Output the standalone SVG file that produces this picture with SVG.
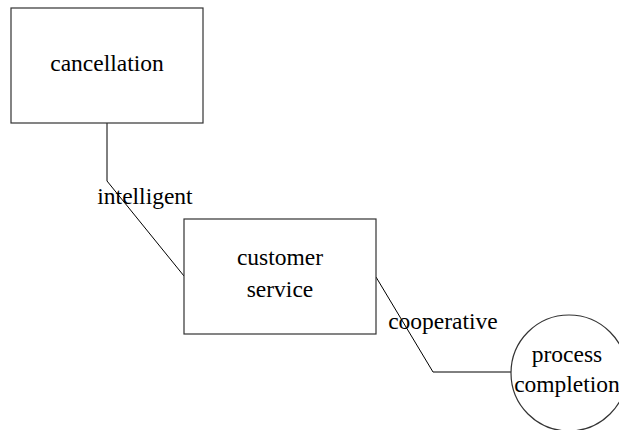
<svg xmlns="http://www.w3.org/2000/svg" width="619" height="430" viewBox="0 0 619 430">
<style>
.n{fill:#fff;stroke:#333;stroke-width:1.2}
.c{fill:none;stroke:#000;stroke-width:1}
.t{font-family:'Liberation Serif','Times New Roman',serif;font-size:23.5px;fill:#000;text-anchor:middle}
</style>
<rect width="619" height="430" fill="#fff"/>
<g id="connectors">
<polyline class="c" points="107,123 107,181 184,276"/>
<polyline class="c" points="376,277 433,372 511,372"/>
</g>
<g id="cancellation">
<rect class="n" x="11" y="8" width="192" height="115"/>
<text class="t" x="107" y="71">cancellation</text>
</g>
<g id="customer-service">
<rect class="n" x="184" y="219" width="192" height="115"/>
<text class="t" x="280" y="265">customer</text>
<text class="t" x="280" y="297">service</text>
</g>
<g id="process-completion">
<circle class="n" cx="569" cy="373" r="58"/>
<text class="t" x="567" y="362">process</text>
<text class="t" x="567" y="392">completion</text>
</g>
<g id="labels">
<text class="t" x="145" y="204">intelligent</text>
<text class="t" x="443" y="329">cooperative</text>
</g>
</svg>
